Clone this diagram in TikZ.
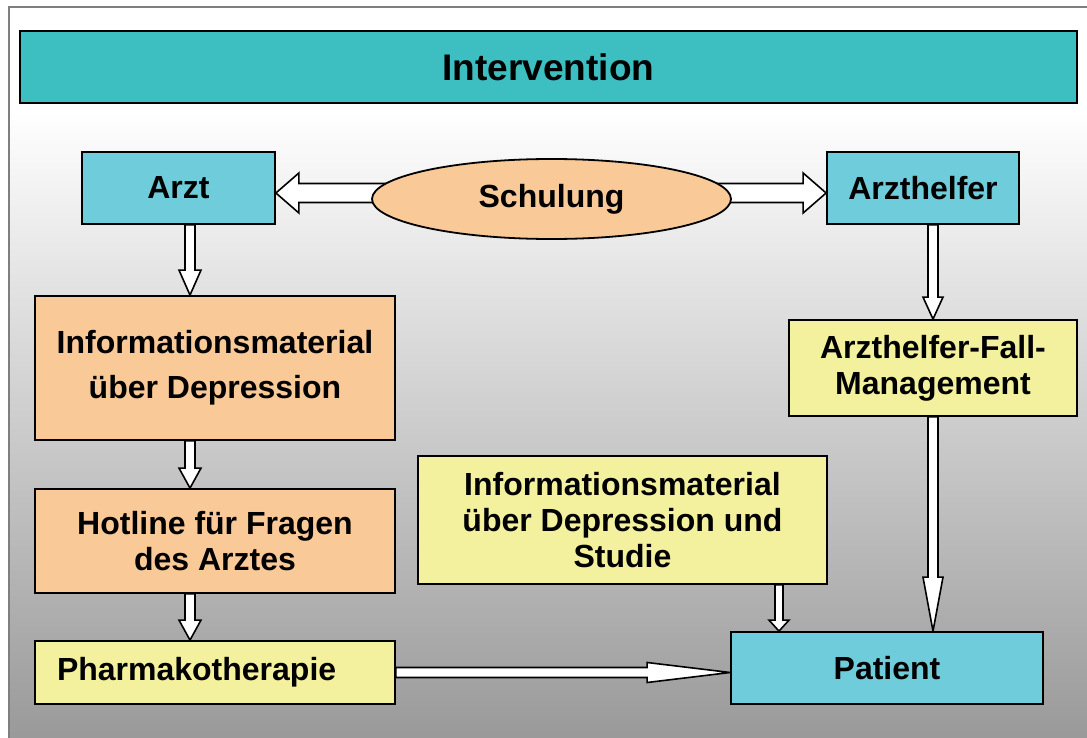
\documentclass[tikz,border=0pt]{standalone}
\usepackage{fontspec}
\setmainfont{Liberation Sans}
\usetikzlibrary{shapes.geometric,calc}
\definecolor{titel}{HTML}{3DBFC1}
\definecolor{hblau}{HTML}{6FCCDA}
\definecolor{orng}{HTML}{F9C998}
\definecolor{gelb}{HTML}{F4F19E}
\definecolor{rahmen}{HTML}{7F7F7F}
\definecolor{grund}{HTML}{999999}
\pgfdeclarelayer{back}
\pgfdeclarelayer{arrows}
\pgfsetlayers{back,arrows,main}

\begin{document}
\begin{tikzpicture}[x=1pt,y=-1pt,
 bx/.style = {rectangle, draw, line width=1.8pt, inner sep=4pt, align=center,
   font=\fontsize{32}{36}\selectfont\bfseries},
 blaubx/.style = {bx, fill=hblau},
 orgbx/.style = {bx, fill=orng},
 gelbbx/.style = {bx, fill=gelb},
 blk/.style args = {#1/#2/#3}{draw, fill=white, line width=1.6pt,
   to path={let \p1=(\tikztostart), \p2=(\tikztotarget),
     \n1={atan2(\y2-\y1,\x2-\x1)}, \n2={veclen(\x2-\x1,\y2-\y1)-#3} in
     (\p1) ++(\n1+90:#1) -- ++(\n1:\n2) -- ++(\n1+90:#2-#1) -- (\p2)
     -- ($(\p2)+(\n1+180:#3)+(\n1-90:#2)$) -- ++(\n1+90:#2-#1)
     -- ($(\p1)+(\n1-90:#1)$) -- cycle}}]

\useasboundingbox (0,0) rectangle (1087,738);

\begin{pgfonlayer}{back}
\fill[white] (0,0) rectangle (1087,738);
\shade[top color=white, bottom color=grund] (9,110) rectangle (1090,741);
\draw[rahmen, line width=2.5pt] (9,7) rectangle (1090,741);
\end{pgfonlayer}

\node(kopf) [bx, fill=titel, minimum width=1057pt, minimum height=72pt,
  font=\fontsize{37}{44}\selectfont\bfseries] at (548.5,67) {Intervention};

\node(arzt) [blaubx, minimum width=193pt, minimum height=72pt] at (178.5,188) {Arzt};
\node(schulung) [ellipse, draw, line width=1.8pt, fill=orng, minimum width=359pt,
  minimum height=80pt, inner sep=0pt, font=\fontsize{32}{36}\selectfont\bfseries]
  at (551.5,199) {Schulung};
\node(arzthelfer) [blaubx, minimum width=192pt, minimum height=72pt] at (923,188) {Arzthelfer};

\node(info) [orgbx, minimum width=360pt, minimum height=144pt] at (215,368)
  {Informationsmaterial\\[9pt]über Depression};
\node(hotline) [orgbx, minimum width=360pt, minimum height=104pt] at (215,541)
  {Hotline für Fragen\\des Arztes};
\node(pharma) [gelbbx, minimum width=360pt, minimum height=63pt, text width=316pt,
  inner xsep=22pt, align=left] at (215,672.5) {Pharmakotherapie};

\node(studie) [gelbbx, minimum width=409pt, minimum height=128pt] at (622.5,520)
  {Informationsmaterial\\über Depression und\\Studie};
\node(fall) [gelbbx, minimum width=288pt, minimum height=96pt] at (933,368)
  {Arzthelfer-Fall-\\Management};
\node(patient) [blaubx, minimum width=312pt, minimum height=72pt] at (887,668) {Patient};

\coordinate (srow) at (0,193);
\coordinate (lcol) at (190,0);
\coordinate (scol) at (779,0);
%
\begin{pgfonlayer}{arrows}
\path   (schulung.center |- srow) edge [blk=9.5pt/20pt/23pt] (arzt.east |- srow)
        (schulung.center |- srow) edge [blk=9.5pt/20pt/23pt] (arzthelfer.west |- srow)
        (arzt.south -| lcol) edge [blk=5pt/11pt/25pt] (info.north -| lcol)
        (info.south -| lcol) edge [blk=5pt/11pt/20pt] (hotline.north -| lcol)
        (hotline.south -| lcol) edge [blk=5pt/11pt/20pt] (pharma.north -| lcol)
        (arzthelfer.south -| fall.north) edge [blk=5pt/10pt/22pt] (fall.north)
        (fall.south) edge [blk=5pt/10pt/54pt] (fall.south |- patient.north)
        (studie.south -| scol) edge [blk=4pt/10pt/11pt] (patient.north -| scol)
        (pharma.east) edge [blk=5pt/10pt/83pt] (pharma.east -| patient.west);
\end{pgfonlayer}

\end{tikzpicture}
\end{document}
